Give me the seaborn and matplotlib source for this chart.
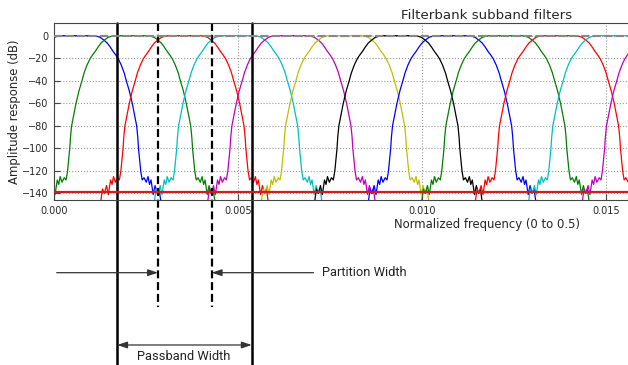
import matplotlib
matplotlib.use("Agg")
import matplotlib.pyplot as plt
import matplotlib.transforms as mtransforms
import numpy as np
import pandas as pd
import seaborn as sns

#Channel centre frequencies (normalized) and colours
centers = [0.00062, 0.00209, 0.00354, 0.00500, 0.00645, 0.00791,
           0.00936, 0.01082, 0.01227, 0.01373, 0.01518, 0.01664]
colors = ['b', 'g', 'r', 'c', 'm', 'y', 'k', 'b', 'g', 'r', 'c', 'm']

#One-sided shape of the prototype filter: offset from centre (x 1e-3) and response (dB)
offset = [0, 0.46, 0.54, 0.63, 0.73, 0.82, 0.90, 0.98, 1.06, 1.12, 1.20,
          1.28, 1.33, 1.42, 1.50, 1.56, 1.62, 1.65, 1.67, 1.70, 1.73, 1.77, 1.82,
          1.88, 1.93, 1.97, 2.01, 2.07, 2.12, 2.18, 2.23, 2.29, 2.39]
resp = [0, 0, -0.5, -1.5, -3.9, -6.5, -10, -14, -17.5, -20.5, -26,
        -33, -39, -49, -60, -70, -80, -90, -100, -110, -120, -128, -126,
        -130, -125, -132, -128, -141, -133, -140, -136, -150, -170]

stop_level = -138.8          #red stopband line
passband = [0.00171, 0.00537]   #solid lines
partition = [0.00282, 0.00428]  #dashed lines

#Build long table
off = np.array(offset) * 1e-3
full_off = np.concatenate([-off[::-1], off[1:]])
full_resp = np.concatenate([np.array(resp)[::-1], np.array(resp)[1:]])
rows = []
for i, c in enumerate(centers):
    rows.append(pd.DataFrame({'freq': c + full_off, 'dB': full_resp, 'ch': i}))
df = pd.concat(rows, ignore_index=True)

sns.set_style("ticks")
plt.rcParams['font.family'] = ['DejaVu Sans']

fig = plt.figure(figsize=(6.28, 3.65), dpi=100)
ax = fig.add_axes([0.0865, 0.452, 1.3768, 0.4841])

pal = {i: col for i, col in enumerate(colors)}
sns.lineplot(data=df, x='freq', y='dB', hue='ch', palette=pal, legend=False,
             estimator=None, sort=False, lw=0.9, ax=ax)

ax.axhline(stop_level, color='#cc1f1f', lw=1.6, zorder=3)
ax.axhline(0, color='#888888', ls=(0, (4, 1.5)), lw=1.5, zorder=4)

ax.set_xlim(0, 0.02352)
ax.set_ylim(-145.8, 11)
ax.set_xticks([0, 0.005, 0.010, 0.015])
ax.set_yticks(np.arange(-140, 1, 20))
ax.grid(True, ls=':', color='#999999', lw=0.8)
ax.tick_params(direction='in', length=4, labelsize=7, pad=4, color='#444444')
for s in ax.spines.values():
    s.set_color('#444444')
ax.set_title('Filterbank subband filters', fontsize=9.6, pad=3)
ax.set_xlabel('Normalized frequency (0 to 0.5)', fontsize=8.4, labelpad=2)
ax.set_ylabel('Amplitude response (dB)', fontsize=8.4, labelpad=1)

#Marker lines running below the axes
trans = mtransforms.blended_transform_factory(ax.transData, fig.transFigure)
for x in passband:
    ax.plot([x, x], [0.936, 0], transform=trans, clip_on=False, color='k', lw=1.8)
for x in partition:
    ax.plot([x, x], [0.936, 0.159], transform=trans, clip_on=False, color='k',
            lw=1.6, ls=(0, (3.6, 1.7)))

arrow = dict(arrowstyle='-|>,head_length=0.6,head_width=0.2', color='#333333', lw=0.9,
             shrinkA=0, shrinkB=0)
ax.annotate('', xy=(partition[0], 0.2529), xytext=(0.000065, 0.2529),
            xycoords=trans, textcoords=trans, arrowprops=arrow, annotation_clip=False)
ax.annotate('', xy=(partition[1], 0.2529), xytext=(0.00705, 0.2529),
            xycoords=trans, textcoords=trans, arrowprops=arrow, annotation_clip=False)
arrow2 = dict(arrow, arrowstyle='<|-|>,head_length=0.6,head_width=0.2')
ax.annotate('', xy=(passband[1], 0.0548), xytext=(passband[0], 0.0548),
            xycoords=trans, textcoords=trans, arrowprops=arrow2, annotation_clip=False)
fig.text(321.7 / 628, 0.2529, 'Partition Width', family='Roboto', fontsize=9.3,
         ha='left', va='center', color='#222222')
fig.text(183.7 / 628, 0.022, 'Passband Width', family='Roboto', fontsize=9.3,
         ha='center', va='center', color='#222222')

plt.savefig('out.png', dpi=100)
